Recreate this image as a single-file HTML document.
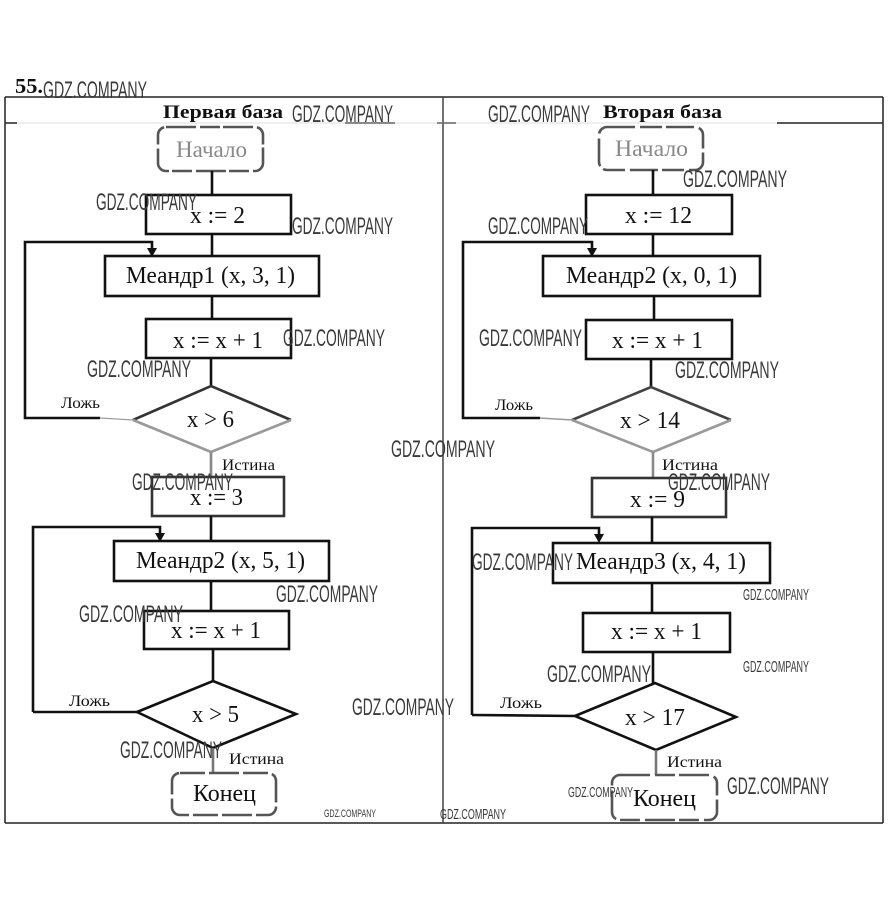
<!DOCTYPE html>
<html><head><meta charset="utf-8">
<style>
html,body{margin:0;padding:0;background:#fff;}
svg{display:block;}
.t{font-family:"Liberation Serif","DejaVu Serif",serif;fill:#111;}
.w{font-family:"Liberation Sans","DejaVu Sans",sans-serif;fill:#3a3a3a;}
.g{fill:#888;}
</style></head>
<body>
<svg width="890" height="919" viewBox="0 0 890 919" xmlns="http://www.w3.org/2000/svg">
<rect x="0" y="0" width="890" height="919" fill="#fff"/>
<!-- frame -->
<g fill="none" stroke="#222" stroke-width="1.5">
<line x1="5" y1="97" x2="883" y2="97"/>
<line x1="5" y1="97" x2="5" y2="823"/>
<line x1="883" y1="97" x2="883" y2="823"/>
<line x1="5" y1="823" x2="883" y2="823"/>
<line x1="443" y1="97" x2="443" y2="823" stroke="#444"/>
</g>
<line x1="5" y1="123" x2="883" y2="123" stroke="#e4e4e4" stroke-width="1.2"/>
<g stroke="#222" stroke-width="1.5">
<line x1="5" y1="123" x2="17" y2="123"/>
<line x1="345" y1="123" x2="395" y2="123" stroke="#666"/>
<line x1="437" y1="123" x2="456" y2="123" stroke="#666"/>
<line x1="777" y1="123" x2="883" y2="123"/>
</g>

<text class="t" x="15" y="93" font-size="21" font-weight="bold" textLength="28" lengthAdjust="spacingAndGlyphs">55.</text>
<text class="t" x="163" y="118" font-size="19" font-weight="bold" fill="#333" textLength="120" lengthAdjust="spacingAndGlyphs">Первая база</text>
<text class="t" x="603" y="118" font-size="19" font-weight="bold" fill="#555" textLength="119" lengthAdjust="spacingAndGlyphs">Вторая база</text>

<!-- LEFT FLOWCHART -->
<g fill="none" stroke="#111" stroke-width="2.6">
<rect x="158" y="127" width="105" height="44" rx="8" stroke="#555" stroke-dasharray="30 4 20 3"/>
<line x1="212" y1="171" x2="212" y2="195"/>
<rect x="146" y="195" width="145" height="39"/>
<line x1="212" y1="234" x2="212" y2="256"/>
<rect x="105" y="256" width="214" height="40"/>
<line x1="212" y1="296" x2="212" y2="319"/>
<rect x="146" y="319" width="145" height="39"/>
<line x1="211" y1="358" x2="211" y2="386"/>
<!-- loop 1 -->
<polyline points="100,418 25,418 25,242 152,242 152,249"/>
<line x1="100" y1="418" x2="133" y2="420" stroke="#999" stroke-width="1.2"/>
<!-- diamond x>6 -->
<polyline points="133,420 211,386 291,420" stroke="#333"/>
<polyline points="133,420 211,452 291,420" stroke="#999"/>
<line x1="211" y1="452" x2="211" y2="477" stroke="#888"/>
<rect x="152" y="477" width="132" height="39" stroke="#333"/>
<line x1="211" y1="516" x2="211" y2="541"/>
<polyline points="33,712 33,527 160,527 160,534"/>
<rect x="114" y="541" width="215" height="40"/>
<line x1="211" y1="581" x2="211" y2="611"/>
<rect x="144" y="611" width="145" height="38"/>
<line x1="213" y1="649" x2="213" y2="681"/>
<line x1="33" y1="712" x2="137" y2="712"/>
<polygon points="137,712 213,681 296,714 213,748"/>
<line x1="213" y1="748" x2="213" y2="773" stroke="#777"/>
<rect x="172" y="773" width="104" height="42" rx="8" stroke="#555" stroke-dasharray="25 4 30 4"/>
</g>
<polygon points="147,248 157,248 152,257" fill="#111"/>
<polygon points="155,533 165,533 160,542" fill="#111"/>

<text class="t g" x="176" y="157" font-size="23" textLength="71" lengthAdjust="spacingAndGlyphs">Начало</text>
<text class="t" x="190" y="223" font-size="24" textLength="55" lengthAdjust="spacingAndGlyphs">x := 2</text>
<text class="t" x="126" y="283" font-size="24" textLength="169" lengthAdjust="spacingAndGlyphs">Меандр1 (x, 3, 1)</text>
<text class="t" x="173" y="348" font-size="24" textLength="90" lengthAdjust="spacingAndGlyphs">x := x + 1</text>
<text class="t" x="187" y="427" font-size="24" fill="#555" textLength="47" lengthAdjust="spacingAndGlyphs">x &gt; 6</text>
<text class="t" x="61" y="408" font-size="16" textLength="39" lengthAdjust="spacingAndGlyphs">Ложь</text>
<text class="t" x="222" y="470" font-size="16" fill="#666" textLength="53" lengthAdjust="spacingAndGlyphs">Истина</text>
<text class="t" x="190" y="505" font-size="24" fill="#444" textLength="53" lengthAdjust="spacingAndGlyphs">x := 3</text>
<text class="t" x="136" y="568" font-size="24" textLength="169" lengthAdjust="spacingAndGlyphs">Меандр2 (x, 5, 1)</text>
<text class="t" x="171" y="638" font-size="24" textLength="90" lengthAdjust="spacingAndGlyphs">x := x + 1</text>
<text class="t" x="192" y="722" font-size="24" textLength="47" lengthAdjust="spacingAndGlyphs">x &gt; 5</text>
<text class="t" x="69" y="706" font-size="16" textLength="41" lengthAdjust="spacingAndGlyphs">Ложь</text>
<text class="t" x="229" y="764" font-size="16" fill="#444" textLength="55" lengthAdjust="spacingAndGlyphs">Истина</text>
<text class="t" x="193" y="801" font-size="24" fill="#666" textLength="63" lengthAdjust="spacingAndGlyphs">Конец</text>

<!-- RIGHT FLOWCHART -->
<g fill="none" stroke="#111" stroke-width="2.6">
<rect x="599" y="127" width="104" height="43" rx="8" stroke="#555" stroke-dasharray="28 5 22 4"/>
<line x1="653" y1="170" x2="653" y2="195"/>
<rect x="586" y="195" width="146" height="39"/>
<line x1="653" y1="234" x2="653" y2="256"/>
<rect x="543" y="256" width="217" height="40"/>
<line x1="654" y1="296" x2="654" y2="320"/>
<rect x="586" y="320" width="146" height="39"/>
<line x1="651" y1="359" x2="651" y2="387"/>
<polyline points="540,418 463,418 463,242 592,242 592,249"/>
<line x1="540" y1="418" x2="572" y2="420" stroke="#999" stroke-width="1.4"/>
<polyline points="572,420 651,387 731,420" stroke="#444"/>
<polyline points="572,420 653,452 731,420" stroke="#999"/>
<line x1="653" y1="452" x2="653" y2="478" stroke="#888"/>
<rect x="592" y="478" width="134" height="39" stroke="#333"/>
<line x1="652" y1="517" x2="652" y2="543"/>
<polyline points="472,715 472,528 599,528 599,535"/>
<rect x="553" y="543" width="217" height="40"/>
<line x1="652" y1="583" x2="652" y2="613"/>
<rect x="583" y="613" width="147" height="39"/>
<line x1="653" y1="652" x2="653" y2="683"/>
<line x1="472" y1="715" x2="575" y2="716"/>
<polygon points="575,716 655,683 736,717 656,750"/>
<line x1="656" y1="750" x2="656" y2="775" stroke="#777"/>
<rect x="612" y="775" width="105" height="45" rx="8" stroke="#555" stroke-dasharray="30 5 20 4"/>
</g>
<polygon points="587,248 597,248 592,257" fill="#111"/>
<polygon points="594,534 604,534 599,543" fill="#111"/>

<text class="t g" x="615" y="156" font-size="23" textLength="73" lengthAdjust="spacingAndGlyphs">Начало</text>
<text class="t" x="625" y="223" font-size="24" textLength="67" lengthAdjust="spacingAndGlyphs">x := 12</text>
<text class="t" x="566" y="283" font-size="24" textLength="171" lengthAdjust="spacingAndGlyphs">Меандр2 (x, 0, 1)</text>
<text class="t" x="612" y="348" font-size="24" textLength="91" lengthAdjust="spacingAndGlyphs">x := x + 1</text>
<text class="t" x="620" y="428" font-size="24" fill="#888" textLength="60" lengthAdjust="spacingAndGlyphs">x &gt; 14</text>
<text class="t" x="495" y="410" font-size="16" textLength="38" lengthAdjust="spacingAndGlyphs">Ложь</text>
<text class="t" x="662" y="470" font-size="16" fill="#888" textLength="56" lengthAdjust="spacingAndGlyphs">Истина</text>
<text class="t" x="630" y="507" font-size="24" textLength="55" lengthAdjust="spacingAndGlyphs">x := 9</text>
<text class="t" x="576" y="569" font-size="24" textLength="170" lengthAdjust="spacingAndGlyphs">Меандр3 (x, 4, 1)</text>
<text class="t" x="611" y="639" font-size="24" textLength="91" lengthAdjust="spacingAndGlyphs">x := x + 1</text>
<text class="t" x="625" y="725" font-size="24" textLength="60" lengthAdjust="spacingAndGlyphs">x &gt; 17</text>
<text class="t" x="500" y="708" font-size="16" textLength="42" lengthAdjust="spacingAndGlyphs">Ложь</text>
<text class="t" x="667" y="767" font-size="16" fill="#888" textLength="55" lengthAdjust="spacingAndGlyphs">Истина</text>
<text class="t" x="633" y="806" font-size="24" fill="#777" textLength="63" lengthAdjust="spacingAndGlyphs">Конец</text>

<!-- watermarks -->
<g class="w">
<text x="43" y="98" font-size="24" textLength="104" lengthAdjust="spacingAndGlyphs">GDZ.COMPANY</text>
<text x="292" y="122" font-size="24" textLength="101" lengthAdjust="spacingAndGlyphs">GDZ.COMPANY</text>
<text x="488" y="122" font-size="24" textLength="102" lengthAdjust="spacingAndGlyphs">GDZ.COMPANY</text>
<text x="683" y="187" font-size="24" textLength="104" lengthAdjust="spacingAndGlyphs">GDZ.COMPANY</text>
<text x="96" y="210" font-size="24" textLength="101" lengthAdjust="spacingAndGlyphs">GDZ.COMPANY</text>
<text x="292" y="234" font-size="24" textLength="101" lengthAdjust="spacingAndGlyphs">GDZ.COMPANY</text>
<text x="488" y="234" font-size="24" textLength="100" lengthAdjust="spacingAndGlyphs">GDZ.COMPANY</text>
<text x="283" y="346" font-size="24" textLength="102" lengthAdjust="spacingAndGlyphs">GDZ.COMPANY</text>
<text x="479" y="346" font-size="24" textLength="103" lengthAdjust="spacingAndGlyphs">GDZ.COMPANY</text>
<text x="87" y="377" font-size="24" textLength="104" lengthAdjust="spacingAndGlyphs">GDZ.COMPANY</text>
<text x="675" y="378" font-size="24" textLength="104" lengthAdjust="spacingAndGlyphs">GDZ.COMPANY</text>
<text x="391" y="457" font-size="24" textLength="104" lengthAdjust="spacingAndGlyphs">GDZ.COMPANY</text>
<text x="132" y="490" font-size="24" textLength="101" lengthAdjust="spacingAndGlyphs">GDZ.COMPANY</text>
<text x="668" y="490" font-size="24" textLength="102" lengthAdjust="spacingAndGlyphs">GDZ.COMPANY</text>
<text x="472" y="570" font-size="24" textLength="101" lengthAdjust="spacingAndGlyphs">GDZ.COMPANY</text>
<text x="276" y="602" font-size="24" textLength="102" lengthAdjust="spacingAndGlyphs">GDZ.COMPANY</text>
<text x="79" y="622" font-size="24" textLength="104" lengthAdjust="spacingAndGlyphs">GDZ.COMPANY</text>
<text x="547" y="682" font-size="24" textLength="104" lengthAdjust="spacingAndGlyphs">GDZ.COMPANY</text>
<text x="352" y="715" font-size="24" textLength="102" lengthAdjust="spacingAndGlyphs">GDZ.COMPANY</text>
<text x="120" y="758" font-size="24" textLength="102" lengthAdjust="spacingAndGlyphs">GDZ.COMPANY</text>
<text x="727" y="794" font-size="24" textLength="102" lengthAdjust="spacingAndGlyphs">GDZ.COMPANY</text>
<text x="743" y="600" font-size="16" textLength="66" lengthAdjust="spacingAndGlyphs">GDZ.COMPANY</text>
<text x="743" y="672" font-size="16" textLength="66" lengthAdjust="spacingAndGlyphs">GDZ.COMPANY</text>
<text x="568" y="797" font-size="15" textLength="65" lengthAdjust="spacingAndGlyphs">GDZ.COMPANY</text>
<text x="324" y="817" font-size="11" textLength="52" lengthAdjust="spacingAndGlyphs">GDZ.COMPANY</text>
<text x="440" y="819" font-size="15" textLength="66" lengthAdjust="spacingAndGlyphs">GDZ.COMPANY</text>
</g>
</svg>
</body></html>
